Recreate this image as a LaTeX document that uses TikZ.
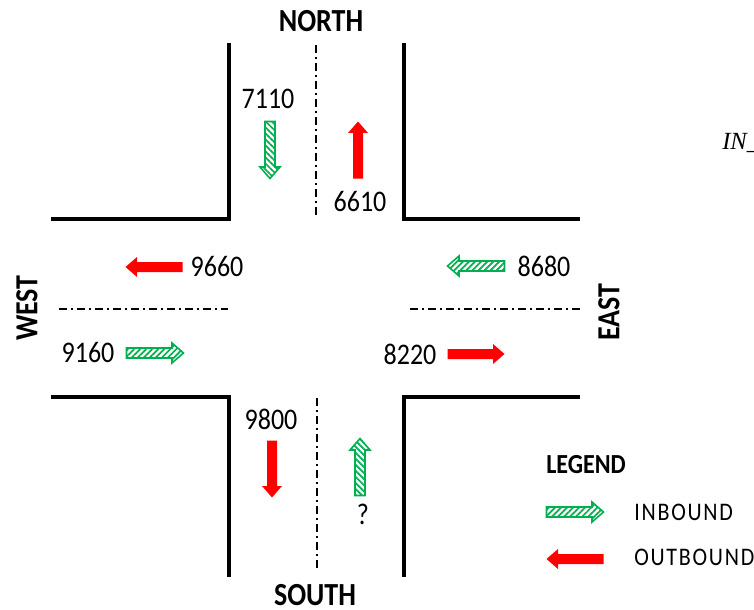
\documentclass[tikz,border=0pt]{standalone}
\usepackage{fontspec}
\setmainfont{Carlito}
\newfontfamily\formulafont{Liberation Serif}
\usetikzlibrary{patterns.meta}
\definecolor{ingreen}{RGB}{0,176,80}
\definecolor{outred}{RGB}{255,0,0}
% text in this drawing is set slightly taller than its width
\newcommand{\stretched}[1]{\scalebox{1}[1.15]{#1}}

\tikzset{
  road/.style={line width=3pt, line join=miter, line cap=rect},
  centerline/.style={line width=1.4pt, dash pattern=on 6pt off 3pt on 1.5pt off 3pt},
  count/.style={font=\fontsize{19.5}{22}\selectfont, inner sep=0pt},
  compass/.style={font=\bfseries\fontsize{21}{24}\selectfont, inner sep=0pt},
  legendtext/.style={font=\fontsize{16.5}{20}\selectfont\addfontfeature{LetterSpace=8}, inner sep=0pt, anchor=west},
  inflow/.style={draw=ingreen, line width=1.2pt,
    pattern={Lines[angle=#1,distance=3.2pt,line width=1.3pt]}, pattern color=ingreen},
  outflow/.style={fill=outred},
  pics/flowarrow/.style={code={
    \path[#1] (-28.5,-5) -- (17,-5) -- (17,-10) -- (28.5,0) -- (17,10)
      -- (17,5) -- (-28.5,5) -- cycle;}},
}

\begin{document}
\begin{tikzpicture}[x=0.75pt, y=-0.75pt]
  \useasboundingbox (0,0) rectangle (754,610);

  % kerbs of the four corners
  \draw[road] (229,45) -- (229,219) -- (53,219);
  \draw[road] (404,45) -- (404,219) -- (578,219);
  \draw[road] (53,397) -- (229,397) -- (229,575);
  \draw[road] (578,397) -- (404,397) -- (404,575);

  % lane dividers
  \draw[centerline] (316,45) -- (316,218);
  \draw[centerline] (317,398) -- (317,570);
  \draw[centerline] (59,309) -- (228,309);
  \draw[centerline] (410,309) -- (580,309);

  % approach names
  \node[compass] (north) at (321,21.5) {\stretched{NORTH}};
  \node[compass] (south) at (315,595.5) {\stretched{SOUTH}};
  \node[compass, rotate=90] (west) at (27,308) {\stretched{WEST}};
  \node[compass, rotate=90] (east) at (609,312) {\stretched{EAST}};

  % traffic counts
  \node[count] (n-in) at (268,99) {\stretched{7110}};
  \node[count] (n-out) at (360,202) {\stretched{6610}};
  \node[count] (w-out) at (217,267) {\stretched{9660}};
  \node[count] (e-in) at (544,266) {\stretched{8680}};
  \node[count] (w-in) at (88,353) {\stretched{9160}};
  \node[count] (e-out) at (410,354) {\stretched{8220}};
  \node[count] (s-out) at (271,419) {\stretched{9800}};
  \node[count] (s-in) at (363,514) {\stretched{?}};

  % flow arrows
  \pic[rotate=270] at (270,150) {flowarrow={inflow=-45}};
  \pic[rotate=90]  at (358,150) {flowarrow={outflow}};
  \pic[rotate=180] at (154,267) {flowarrow={outflow}};
  \pic[rotate=180] at (476,266) {flowarrow={inflow=45}};
  \pic              at (155,353) {flowarrow={inflow=45}};
  \pic              at (476,354) {flowarrow={outflow}};
  \pic[rotate=270] at (272,469) {flowarrow={outflow}};
  \pic[rotate=90]  at (360,467) {flowarrow={inflow=-45}};

  % legend
  \node[font=\bfseries\fontsize{18}{22}\selectfont, inner sep=0pt] (legend) at (586,465) {\stretched{LEGEND}};
  \pic              at (575,512) {flowarrow={inflow=45}};
  \pic[rotate=180] at (575,559) {flowarrow={outflow}};
  \node[legendtext] (inbound) at (634,512) {\stretched{INBOUND}};
  \node[legendtext] (outbound) at (634,557) {\stretched{OUTBOUND}};

  % formula running off the right edge
  \node[font=\formulafont\itshape\fontsize{18.5}{22}\selectfont, inner sep=0pt, anchor=west] (formula) at (722,143) {IN\_};
\end{tikzpicture}
\end{document}
